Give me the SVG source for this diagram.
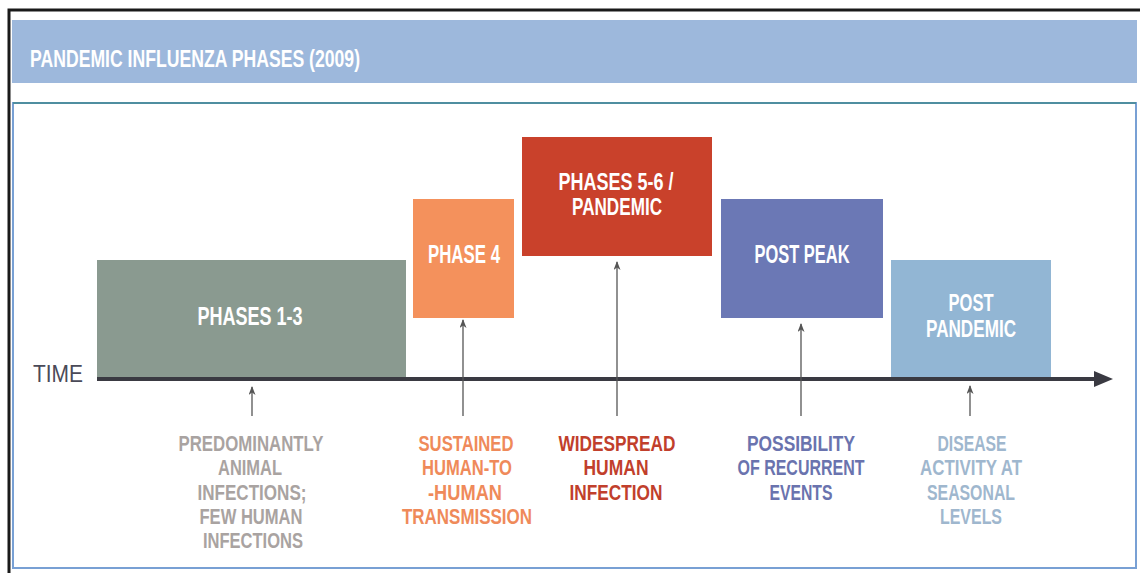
<svg xmlns="http://www.w3.org/2000/svg" width="1140" height="573" viewBox="0 0 1140 573">
<style>
.cond{font-family:"Liberation Sans","Arimo",sans-serif;font-weight:bold;}
.box text{fill:#ffffff;font-size:26px;text-anchor:middle;}
.box text.two{font-size:23px;}
.lbl{font-size:22px;text-anchor:middle;}
.up{stroke:#555555;stroke-width:1.3;fill:none;marker-end:url(#ah);}
</style>
<defs>
<marker id="ah" markerWidth="9" markerHeight="7" refX="8" refY="3.5" orient="auto" markerUnits="userSpaceOnUse" viewBox="0 0 9 7">
<path d="M0,0 L9,3.5 L0,7 L2.5,3.5 Z" fill="#555555"/>
</marker>
</defs>
<rect width="1140" height="573" fill="#ffffff"/>
<path d="M9,573 L9,10 L1140,10" fill="none" stroke="#1a1a1a" stroke-width="3"/>
<rect x="12" y="20" width="1125" height="63" fill="#9db8dc"/>
<text x="30" y="67" class="cond" fill="#ffffff" font-size="23" textLength="330" lengthAdjust="spacingAndGlyphs">PANDEMIC INFLUENZA PHASES (2009)</text>
<rect x="13" y="103" width="1123" height="465" fill="none" stroke="#78a0d4" stroke-width="2"/>
<line x1="13" y1="103" x2="1136" y2="103" stroke="#4f8ea0" stroke-width="2"/>

<g id="phases-1-3" class="box cond"><rect x="97" y="260" width="309" height="118" fill="#8a9a90"/><text x="250" y="325" textLength="105" lengthAdjust="spacingAndGlyphs">PHASES 1-3</text></g>
<g id="phase-4" class="box cond"><rect x="413" y="199" width="101" height="119" fill="#f4915c"/><text x="464" y="263" textLength="72" lengthAdjust="spacingAndGlyphs">PHASE 4</text></g>
<g id="phases-5-6" class="box cond"><rect x="522" y="137" width="190" height="119" fill="#c9412b"/><text class="two" x="616" y="190" textLength="115" lengthAdjust="spacingAndGlyphs">PHASES 5-6 /</text><text class="two" x="617" y="215" textLength="90" lengthAdjust="spacingAndGlyphs">PANDEMIC</text></g>
<g id="post-peak" class="box cond"><rect x="721" y="199" width="162" height="119" fill="#6b78b5"/><text x="802" y="263" textLength="95" lengthAdjust="spacingAndGlyphs">POST PEAK</text></g>
<g id="post-pandemic" class="box cond"><rect x="891" y="260" width="160" height="118" fill="#92b6d4"/><text class="two" x="971" y="311" textLength="45" lengthAdjust="spacingAndGlyphs">POST</text><text class="two" x="971" y="337" textLength="90" lengthAdjust="spacingAndGlyphs">PANDEMIC</text></g>

<g id="timeline">
<line x1="97" y1="379" x2="1096" y2="379" stroke="#3a3a42" stroke-width="4"/>
<path d="M1094,371 L1113,379 L1094,387 Z" fill="#3a3a42"/>
<text x="33" y="382" font-family="Liberation Sans,sans-serif" font-size="24" fill="#4a4a58" textLength="50" lengthAdjust="spacingAndGlyphs">TIME</text>
</g>

<g id="connectors">
<line class="up" x1="252" y1="416" x2="252" y2="387"/>
<line class="up" x1="463" y1="416" x2="463" y2="320"/>
<line class="up" x1="617" y1="416" x2="617" y2="262"/>
<line class="up" x1="801" y1="416" x2="801" y2="324"/>
<line class="up" x1="970" y1="416" x2="970" y2="386"/>
</g>

<g id="label-1" class="lbl cond" fill="#a9a3a1">
<text x="251" y="451" textLength="145" lengthAdjust="spacingAndGlyphs">PREDOMINANTLY</text>
<text x="250" y="475" textLength="64" lengthAdjust="spacingAndGlyphs">ANIMAL</text>
<text x="252" y="500" textLength="109" lengthAdjust="spacingAndGlyphs">INFECTIONS;</text>
<text x="251" y="524" textLength="103" lengthAdjust="spacingAndGlyphs">FEW HUMAN</text>
<text x="253" y="548" textLength="100" lengthAdjust="spacingAndGlyphs">INFECTIONS</text>
</g>
<g id="label-2" class="lbl cond" fill="#ef8a5a">
<text x="466" y="451" textLength="95" lengthAdjust="spacingAndGlyphs">SUSTAINED</text>
<text x="467" y="475" textLength="90" lengthAdjust="spacingAndGlyphs">HUMAN-TO</text>
<text x="465" y="500" textLength="74" lengthAdjust="spacingAndGlyphs">-HUMAN</text>
<text x="467" y="524" textLength="130" lengthAdjust="spacingAndGlyphs">TRANSMISSION</text>
</g>
<g id="label-3" class="lbl cond" fill="#c13f2c">
<text x="617" y="451" textLength="117" lengthAdjust="spacingAndGlyphs">WIDESPREAD</text>
<text x="616" y="475" textLength="65" lengthAdjust="spacingAndGlyphs">HUMAN</text>
<text x="616" y="500" textLength="93" lengthAdjust="spacingAndGlyphs">INFECTION</text>
</g>
<g id="label-4" class="lbl cond" fill="#6a73ae">
<text x="801" y="451" textLength="108" lengthAdjust="spacingAndGlyphs">POSSIBILITY</text>
<text x="801" y="475" textLength="127" lengthAdjust="spacingAndGlyphs">OF RECURRENT</text>
<text x="801" y="500" textLength="63" lengthAdjust="spacingAndGlyphs">EVENTS</text>
</g>
<g id="label-5" class="lbl cond" fill="#9fb7ce">
<text x="972" y="451" textLength="69" lengthAdjust="spacingAndGlyphs">DISEASE</text>
<text x="971" y="475" textLength="102" lengthAdjust="spacingAndGlyphs">ACTIVITY AT</text>
<text x="971" y="500" textLength="88" lengthAdjust="spacingAndGlyphs">SEASONAL</text>
<text x="971" y="524" textLength="62" lengthAdjust="spacingAndGlyphs">LEVELS</text>
</g>
</svg>
